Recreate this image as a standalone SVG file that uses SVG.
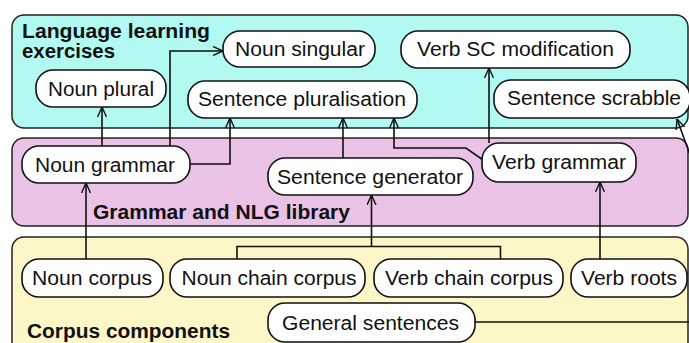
<svg xmlns="http://www.w3.org/2000/svg" width="689" height="343" viewBox="0 0 689 343">
<style>
.grp{stroke:#222;stroke-width:1.5}
.node rect{fill:#fff;stroke:#111;stroke-width:1.6}
text{font-family:"Liberation Sans",Arial,sans-serif;font-size:20px;fill:#111}
.node text{text-anchor:middle}
.lbl{font-weight:bold}
.conn path{fill:none;stroke:#111;stroke-width:1.6}
</style>
<defs>
<marker id="arr" viewBox="0 0 10 10" refX="10" refY="5" markerWidth="10" markerHeight="10" markerUnits="userSpaceOnUse" orient="auto">
<path d="M0,0.5 L10,5 L0,9.5" fill="none" stroke="#111" stroke-width="1.4"/>
</marker>
</defs>
<rect width="689" height="343" fill="#fff"/>
<g id="g-exercises">
<rect class="grp" x="12" y="15" width="676" height="113" rx="12" fill="#b2f9f2"/>
<text class="lbl" x="22" y="38" textLength="188" lengthAdjust="spacingAndGlyphs">Language learning</text>
<text class="lbl" x="22" y="58" textLength="93" lengthAdjust="spacingAndGlyphs">exercises</text>
</g>
<g id="g-grammar">
<rect class="grp" x="12" y="138" width="676" height="88" rx="12" fill="#eac2e6"/>
<text class="lbl" x="93" y="219" textLength="257" lengthAdjust="spacingAndGlyphs">Grammar and NLG library</text>
</g>
<g id="g-corpus">
<rect class="grp" x="12" y="237" width="676" height="130" rx="12" fill="#fdf6c6"/>
<text class="lbl" x="27" y="338" textLength="203" lengthAdjust="spacingAndGlyphs">Corpus components</text>
</g>
<g class="conn" id="connectors">
<path d="M86,259 V183" marker-end="url(#arr)"/>
<path d="M102,146 V107" marker-end="url(#arr)"/>
<path d="M170,146 V51 H223" marker-end="url(#arr)"/>
<path d="M190,164 H230 V118" marker-end="url(#arr)"/>
<path d="M343,158 V118" marker-end="url(#arr)"/>
<path d="M483,160 L466,148 H394 V118" marker-end="url(#arr)"/>
<path d="M489,143 V68" marker-end="url(#arr)"/>
<path d="M237,259 V246.5 H500.5 V259"/>
<path d="M371.5,246.5 V195" marker-end="url(#arr)"/>
<path d="M600,259 V182" marker-end="url(#arr)"/>
<path d="M475,322 H697 V174 L677,119" marker-end="url(#arr)"/>
</g>
<g class="node" id="n-noun-singular"><rect x="223" y="31" width="152" height="36" rx="17"/><text x="300" y="56" textLength="130" lengthAdjust="spacingAndGlyphs">Noun singular</text></g>
<g class="node" id="n-noun-plural"><rect x="36" y="70" width="130" height="37" rx="17"/><text x="101" y="96" textLength="106" lengthAdjust="spacingAndGlyphs">Noun plural</text></g>
<g class="node" id="n-sentence-pluralisation"><rect x="188" y="81" width="229" height="37" rx="17"/><text x="302" y="106" textLength="208" lengthAdjust="spacingAndGlyphs">Sentence pluralisation</text></g>
<g class="node" id="n-verb-sc"><rect x="401" y="31" width="229" height="37" rx="17"/><text x="515.5" y="56" textLength="197" lengthAdjust="spacingAndGlyphs">Verb SC modification</text></g>
<g class="node" id="n-sentence-scrabble"><rect x="494" y="80" width="196" height="38" rx="17"/><text x="594" y="105" textLength="174" lengthAdjust="spacingAndGlyphs">Sentence scrabble</text></g>
<g class="node" id="n-noun-grammar"><rect x="22" y="146" width="168" height="37" rx="17"/><text x="105" y="172" textLength="140" lengthAdjust="spacingAndGlyphs">Noun grammar</text></g>
<g class="node" id="n-sentence-generator"><rect x="268" y="158" width="205" height="37" rx="17"/><text x="370" y="184" textLength="186" lengthAdjust="spacingAndGlyphs">Sentence generator</text></g>
<g class="node" id="n-verb-grammar"><rect x="482" y="143" width="154" height="39" rx="17"/><text x="559" y="169" textLength="134" lengthAdjust="spacingAndGlyphs">Verb grammar</text></g>
<g class="node" id="n-noun-corpus"><rect x="22" y="259" width="141" height="38" rx="17"/><text x="92" y="285" textLength="120" lengthAdjust="spacingAndGlyphs">Noun corpus</text></g>
<g class="node" id="n-noun-chain"><rect x="170" y="259" width="195" height="38" rx="17"/><text x="269" y="285" textLength="175" lengthAdjust="spacingAndGlyphs">Noun chain corpus</text></g>
<g class="node" id="n-verb-chain"><rect x="374" y="259" width="189" height="38" rx="17"/><text x="469" y="285" textLength="168" lengthAdjust="spacingAndGlyphs">Verb chain corpus</text></g>
<g class="node" id="n-verb-roots"><rect x="571" y="259" width="116" height="38" rx="17"/><text x="629" y="285" textLength="96" lengthAdjust="spacingAndGlyphs">Verb roots</text></g>
<g class="node" id="n-general-sentences"><rect x="268" y="303" width="207" height="39" rx="17"/><text x="370.5" y="330" textLength="177" lengthAdjust="spacingAndGlyphs">General sentences</text></g>
</svg>
